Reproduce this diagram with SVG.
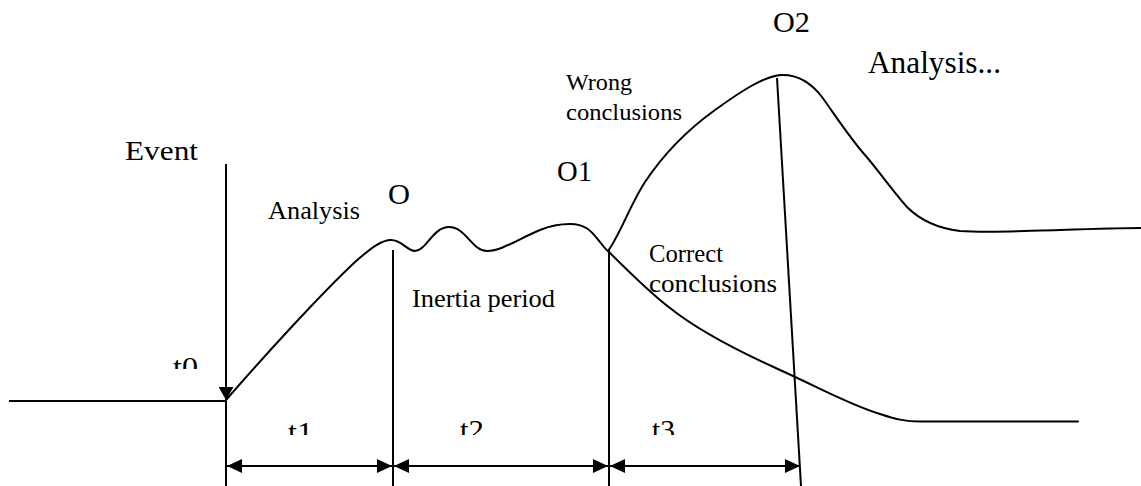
<svg xmlns="http://www.w3.org/2000/svg" width="1141" height="486" viewBox="0 0 1141 486">
<style>
text{font-family:"Liberation Serif","Times New Roman",Tinos,"DejaVu Serif",serif;fill:#000;}
.ln{stroke:#000;fill:none;stroke-width:2;}
.cv{stroke:#000;fill:none;stroke-width:2;stroke-linejoin:round;stroke-linecap:round;}
</style>
<defs>
<marker id="ah" viewBox="0 0 15 14" refX="15" refY="7" markerWidth="15" markerHeight="14" orient="auto-start-reverse" markerUnits="userSpaceOnUse"><path d="M0,0 L15,7 L0,14 z" fill="#000"/></marker>
<marker id="ev" viewBox="0 0 13 15" refX="13" refY="7.5" markerWidth="13" markerHeight="15" orient="auto" markerUnits="userSpaceOnUse"><path d="M0,0 L13,7.5 L0,15 z" fill="#000"/></marker>
<clipPath id="c0"><rect x="150" y="340" width="80" height="29"/></clipPath>
<clipPath id="ct"><rect x="250" y="405" width="480" height="30"/></clipPath>
</defs>
<rect width="1141" height="486" fill="#fff"/>
<g id="connectors">
<line class="ln" x1="9" y1="401" x2="226" y2="401" stroke-width="3"/>
<line id="event-arrow" class="ln" x1="226" y1="164" x2="226" y2="400" marker-end="url(#ev)"/>
<line class="ln" x1="226" y1="401" x2="226" y2="486"/>
<line class="ln" x1="393" y1="250" x2="393" y2="486"/>
<line class="ln" x1="609" y1="250" x2="609" y2="486"/>
<line class="ln" x1="777" y1="78" x2="801" y2="486" stroke-width="1.8"/>
<line class="ln" x1="227" y1="466" x2="392" y2="466" marker-start="url(#ah)" marker-end="url(#ah)"/>
<line class="ln" x1="394" y1="466" x2="608" y2="466" marker-start="url(#ah)" marker-end="url(#ah)"/>
<line class="ln" x1="610" y1="466" x2="800" y2="466" marker-start="url(#ah)" marker-end="url(#ah)"/>
</g>
<g id="curves">
<path id="main-curve" class="cv" d="M226,400 C265,355 320,295 355,262 C372,247 382,240 391,240 C402,240 407,251 415,251 C426,251 433,227 449,227 C466,227 472,251 487,251 C502,251 522,237 540,230 C552,225 560,224 570,224 C588,224 593,234 600,242 C604,247 606,250 608,251"/>
<path id="wrong-branch" class="cv" d="M608,251 C620,235 630,205 645,182 C665,152 690,128 715,110 C740,92 765,75 783,75 C800,75 812,84 822,97 C835,115 850,138 865,155 C878,170 892,190 907,207 C918,218 935,228 960,231 C990,233 1020,231 1060,230 C1090,229 1120,228 1141,228"/>
<path id="correct-branch" class="cv" d="M608,251 C625,268 650,293 670,308 C700,332 740,352 780,370 C820,388 850,405 880,414 C895,419 905,421.5 920,421.5 L1078,421.5"/>
</g>
<g id="labels" font-family="Liberation Serif, Times New Roman, DejaVu Serif, serif">
<text id="event" x="125" y="160" font-size="28" textLength="73" lengthAdjust="spacingAndGlyphs">Event</text>
<text id="t0" x="173" y="376" font-size="28" textLength="25" lengthAdjust="spacingAndGlyphs" clip-path="url(#c0)">t0</text>
<text id="analysis" x="268" y="219" font-size="26" textLength="92" lengthAdjust="spacingAndGlyphs">Analysis</text>
<text id="o" x="388" y="204" font-size="29" textLength="22" lengthAdjust="spacingAndGlyphs">O</text>
<text id="inertia" x="412" y="307" font-size="26" textLength="143" lengthAdjust="spacingAndGlyphs">Inertia period</text>
<text id="o1" x="557" y="181" font-size="29" textLength="35" lengthAdjust="spacingAndGlyphs">O1</text>
<g id="wrong">
<text x="566" y="90" font-size="24" textLength="66" lengthAdjust="spacingAndGlyphs">Wrong</text>
<text x="566" y="120" font-size="24" textLength="116" lengthAdjust="spacingAndGlyphs">conclusions</text>
</g>
<text id="o2" x="773" y="32" font-size="29" textLength="37" lengthAdjust="spacingAndGlyphs">O2</text>
<text id="analysis2" x="868" y="73" font-size="32" textLength="133" lengthAdjust="spacingAndGlyphs">Analysis...</text>
<g id="correct">
<text x="649" y="262" font-size="25" textLength="74" lengthAdjust="spacingAndGlyphs">Correct</text>
<text x="649" y="292" font-size="25" textLength="128" lengthAdjust="spacingAndGlyphs">conclusions</text>
</g>
<g clip-path="url(#ct)">
<text id="t1" x="288" y="441" font-size="28" textLength="25" lengthAdjust="spacingAndGlyphs">t1</text>
<text id="t2" x="460" y="439" font-size="28" textLength="24" lengthAdjust="spacingAndGlyphs">t2</text>
<text id="t3" x="652" y="439" font-size="28" textLength="23" lengthAdjust="spacingAndGlyphs">t3</text>
</g>
</g>
</svg>
